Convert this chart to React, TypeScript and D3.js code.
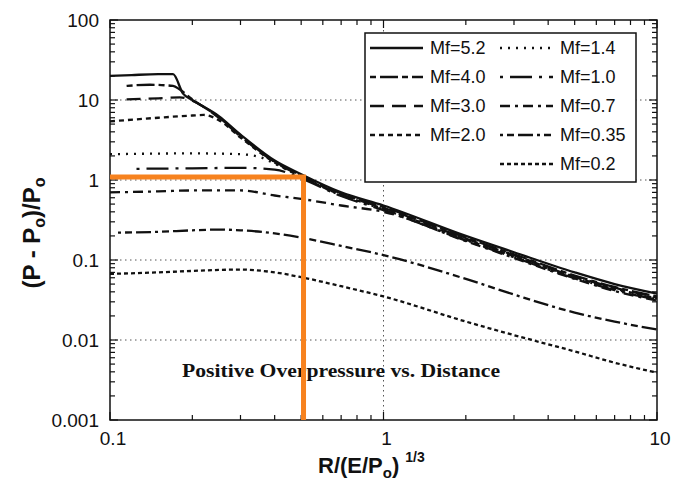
import { curveMonotoneX, line, scaleLog } from 'd3';
import React from 'react';

// [R/(E/Po)^1/3, (P - Po)/Po]
const mf52: [number, number][] = [
	[0.1, 20], [0.12, 20.5], [0.15, 21], [0.17, 21], [0.185, 12], [0.2, 10], [0.25, 6.3],
	[0.3, 3.7], [0.4, 1.75], [0.5, 1.18], [0.7, 0.7], [1, 0.48], [2, 0.2], [3, 0.125],
	[5, 0.07], [7, 0.05], [10, 0.038],
];
const mf40: [number, number][] = [
	[0.115, 15], [0.14, 15.5], [0.17, 15], [0.18, 13.5], [0.2, 10.2], [0.25, 6.1], [0.3, 3.6],
	[0.4, 1.7], [0.5, 1.15], [0.7, 0.68], [1, 0.46], [2, 0.19], [3, 0.118], [5, 0.064],
	[7, 0.046], [10, 0.035],
];
const mf30: [number, number][] = [
	[0.115, 10.2], [0.15, 10.5], [0.18, 10.8], [0.2, 9.8], [0.25, 6.0], [0.3, 3.5], [0.4, 1.68],
	[0.5, 1.12], [0.7, 0.66], [1, 0.45], [2, 0.185], [3, 0.115], [5, 0.062], [7, 0.045],
	[10, 0.034],
];
const mf20: [number, number][] = [
	[0.1, 5.4], [0.15, 6.0], [0.2, 6.4], [0.22, 6.5], [0.25, 5.6], [0.3, 3.4], [0.4, 1.65],
	[0.5, 1.1], [0.7, 0.65], [1, 0.44], [2, 0.18], [3, 0.112], [5, 0.061], [7, 0.044],
	[10, 0.033],
];
const mf14: [number, number][] = [
	[0.1, 2.1], [0.2, 2.15], [0.3, 2.1], [0.35, 1.95], [0.4, 1.6], [0.5, 1.1], [0.7, 0.64],
	[1, 0.43], [2, 0.178], [3, 0.11], [5, 0.06], [7, 0.043], [10, 0.033],
];
const mf10: [number, number][] = [
	[0.125, 1.38], [0.2, 1.4], [0.3, 1.42], [0.4, 1.35], [0.5, 1.05], [0.7, 0.63], [1, 0.42],
	[2, 0.175], [3, 0.108], [5, 0.059], [7, 0.042], [10, 0.032],
];
const mf07: [number, number][] = [
	[0.1, 0.7], [0.15, 0.72], [0.2, 0.74], [0.3, 0.74], [0.4, 0.64], [0.5, 0.58], [0.7, 0.48],
	[1, 0.4], [2, 0.172], [3, 0.106], [5, 0.058], [7, 0.041], [10, 0.031],
];
const mf035: [number, number][] = [
	[0.107, 0.22], [0.15, 0.225], [0.2, 0.235], [0.25, 0.24], [0.3, 0.235], [0.4, 0.215],
	[0.5, 0.19], [0.7, 0.15], [1, 0.115], [2, 0.058], [3, 0.037], [5, 0.022], [7, 0.017],
	[10, 0.0135],
];
const mf02: [number, number][] = [
	[0.1, 0.067], [0.15, 0.07], [0.2, 0.073], [0.3, 0.076], [0.4, 0.07], [0.5, 0.061],
	[0.7, 0.047], [1, 0.035], [2, 0.017], [3, 0.0115], [5, 0.0072], [7, 0.0052], [10, 0.0039],
];

const seriesLabels = ['Mf=5.2', 'Mf=4.0', 'Mf=3.0', 'Mf=2.0', 'Mf=1.4', 'Mf=1.0', 'Mf=0.7', 'Mf=0.35', 'Mf=0.2'];
const seriesData = [mf52, mf40, mf30, mf20, mf14, mf10, mf07, mf035, mf02];
const dashes = ['', '6,4,18,4', '14,8', '5,4', '2,6', '3,7,22,7', '10,5,3,5', '3,4,7,4,15,4', '4,3'];

const xTickLabels = ['0.1', '1', '10'];
const yTickLabels = ['100', '10', '1', '0.1', '0.01', '0.001'];
const yGrid = [10, 1, 0.1, 0.01];
const xGrid = [1];
// the orange read-off marker
const markerX = 0.51;
const markerY = 1.09;

const width = 679;
const height = 483;
const left = 110;
const right = 657;
const top = 20;
const bottom = 420;
const sans = '"Liberation Sans", Arial, sans-serif';

const App = () => {
	const xScale = scaleLog().domain([0.1, 10]).range([left, right]);
	const yScale = scaleLog().domain([0.001, 100]).range([bottom, top]);

	const path = line<[number, number]>()
		.x(d => xScale(d[0]))
		.y(d => yScale(d[1]))
		.curve(curveMonotoneX);

	const isMajor = (v: number) => Math.abs(Math.log10(v) - Math.round(Math.log10(v))) < 1e-6;

	return (
		<svg width={width} height={height} style={{ position: 'absolute', left: 0, top: 0, background: '#fff' }}>
			{/* grid */}
			{yGrid.map(v => (
				<line key={'gy' + v} x1={left} x2={right} y1={yScale(v)} y2={yScale(v)} stroke="#555" strokeWidth={1} strokeDasharray="1.5,3.5" />
			))}
			{xGrid.map(v => (
				<line key={'gx' + v} x1={xScale(v)} x2={xScale(v)} y1={top} y2={bottom} stroke="#555" strokeWidth={1} strokeDasharray="1.5,3.5" />
			))}

			{/* curves */}
			{seriesData.map((d, i) => (
				<path key={seriesLabels[i]} d={path(d) || ''} fill="none" stroke="#111" strokeWidth={2.3} strokeDasharray={dashes[i]} />
			))}

			{/* frame + ticks */}
			<rect x={left} y={top} width={right - left} height={bottom - top} fill="none" stroke="#111" strokeWidth={1.5} />
			{xScale.ticks().map(t => {
				const len = isMajor(t) ? 8 : 5;
				return (
					<g key={'xt' + t}>
						<line x1={xScale(t)} x2={xScale(t)} y1={bottom} y2={bottom - len} stroke="#111" strokeWidth={1.2} />
						<line x1={xScale(t)} x2={xScale(t)} y1={top} y2={top + len} stroke="#111" strokeWidth={1.2} />
					</g>
				);
			})}
			{yScale.ticks().map(t => {
				const len = isMajor(t) ? 8 : 5;
				return (
					<g key={'yt' + t}>
						<line x1={left} x2={left + len} y1={yScale(t)} y2={yScale(t)} stroke="#111" strokeWidth={1.2} />
						<line x1={right} x2={right - len} y1={yScale(t)} y2={yScale(t)} stroke="#111" strokeWidth={1.2} />
					</g>
				);
			})}

			{/* tick labels */}
			{yTickLabels.map(l => (
				<text key={'yl' + l} x={99} y={yScale(+l)} dy="0.36em" textAnchor="end" fontFamily={sans} fontSize={19} fill="#111">
					{l}
				</text>
			))}
			{xTickLabels.map(l => (
				<text key={'xl' + l} x={xScale(+l) + 3} y={445} textAnchor="middle" fontFamily={sans} fontSize={19} fill="#111">
					{l}
				</text>
			))}

			{/* axis titles */}
			<text x={318} y={473} fontFamily={sans} fontSize={22} fontWeight="bold" fill="#111">
				R/(E/P
				<tspan fontSize={15} dy={5}>o</tspan>
				<tspan dy={-5}>)</tspan>
				<tspan fontSize={14} dx={6} dy={-11}>1/3</tspan>
			</text>
			<text transform="translate(40,233) rotate(-90)" textAnchor="middle" fontFamily={sans} fontSize={24} fontWeight="bold" fill="#111">
				(P - P
				<tspan fontSize={16} dy={5}>o</tspan>
				<tspan dy={-5}>)/P</tspan>
				<tspan fontSize={16} dy={5}>o</tspan>
			</text>

			<text x={182} y={377} fontFamily='"Liberation Serif", "Times New Roman", serif' fontSize={19} fontWeight="bold" fill="#111" textLength={318} lengthAdjust="spacingAndGlyphs">
				Positive Overpressure vs. Distance
			</text>

			{/* legend */}
			<rect x={365} y={33} width={271} height={149} fill="#fff" stroke="#111" strokeWidth={1.5} />
			{seriesLabels.map((l, i) => {
				const col = i < 4 ? 0 : 1;
				const row = i < 4 ? i : i - 4;
				const ly = 48 + row * 29;
				const lx = col === 0 ? 370 : 500;
				return (
					<g key={'lg' + l}>
						<line x1={lx} x2={lx + 53} y1={ly} y2={ly} stroke="#111" strokeWidth={2.3} strokeDasharray={dashes[i]} />
						<text x={lx + 60} y={ly} dy="0.36em" fontFamily={sans} fontSize={18} fill="#111">
							{l}
						</text>
					</g>
				);
			})}

			{/* orange marker */}
			<polyline
				points={`${left},${yScale(markerY)} ${xScale(markerX)},${yScale(markerY)} ${xScale(markerX)},${bottom}`}
				fill="none"
				stroke="#f7821e"
				strokeWidth={5}
				strokeLinejoin="miter"
			/>
		</svg>
	);
};

export default App;
